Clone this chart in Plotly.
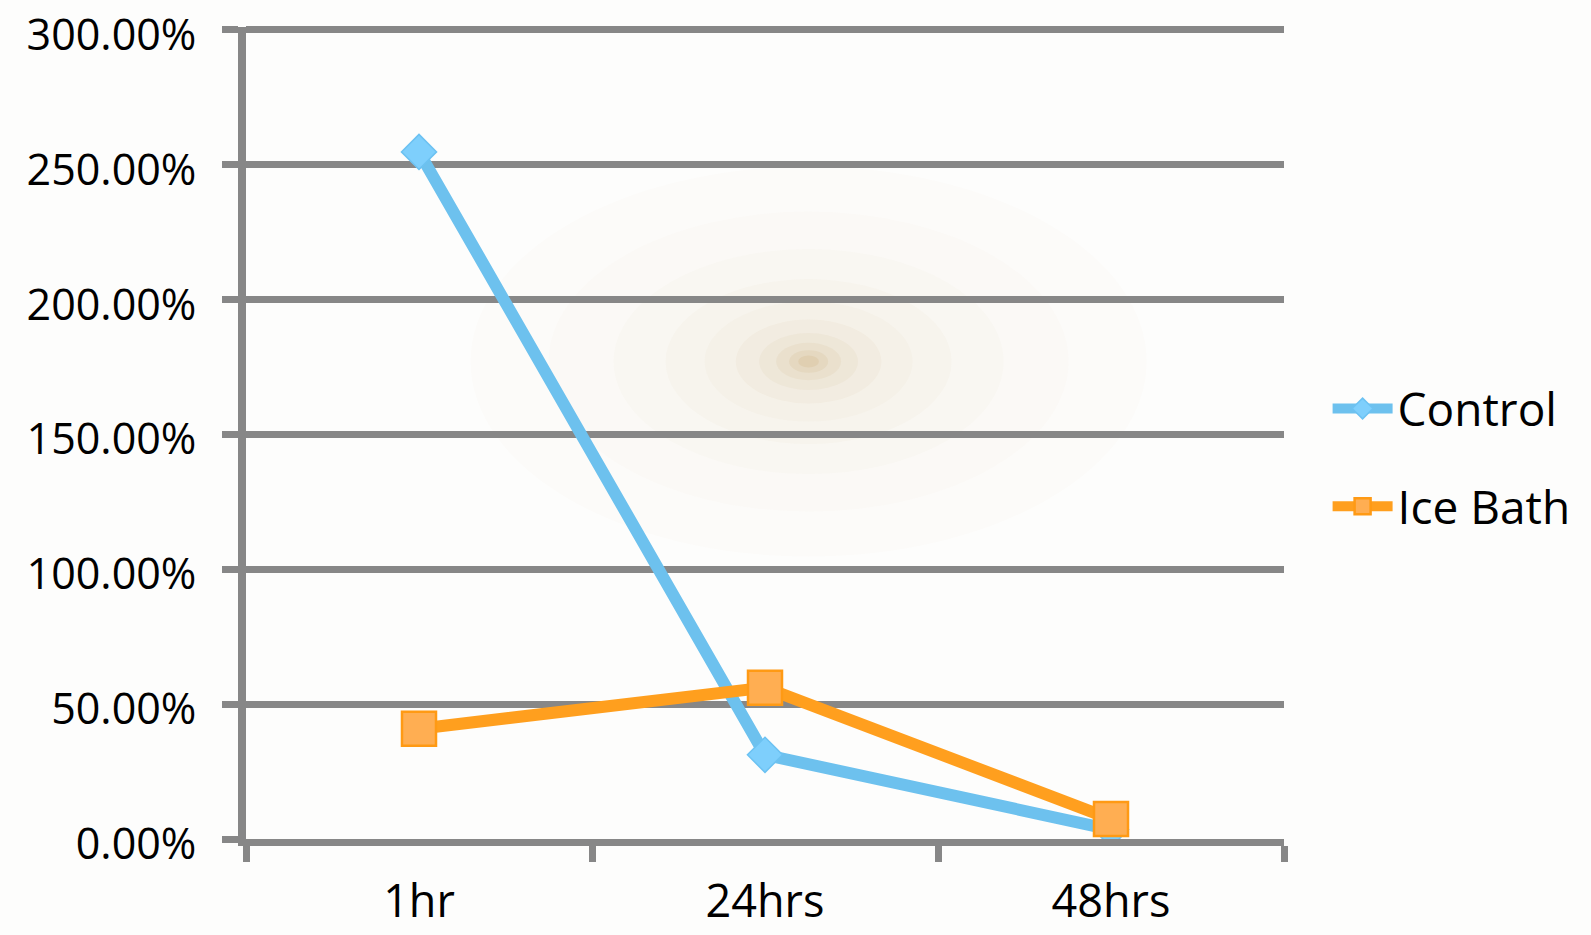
import plotly.graph_objects as go

categories = ["1hr", "24hrs", "48hrs"]
control = [254.7, 31.2, 3.5]
ice_bath = [40.9, 56.1, 7.4]
y_ticks = [0, 50, 100, 150, 200, 250, 300]
y_tick_text = [f"{v:.2f}%" for v in y_ticks]

GRID = "#878787"
FONT = "Open Sans"

fig = go.Figure()

fig.add_trace(go.Scatter(
    x=categories, y=control, name="Control", mode="lines+markers",
    line=dict(color="#6DC1EE", width=12),
    marker=dict(symbol="diamond", size=27, color="#7ECFFC",
                line=dict(color="#6CC2F2", width=1.5)),
    legendgroup="a",
))
fig.add_trace(go.Scatter(
    x=categories, y=ice_bath, name="Ice Bath", mode="lines+markers",
    line=dict(color="#FF9F1E", width=12),
    marker=dict(symbol="square", size=34, color="#FFAE52",
                line=dict(color="#FF9A14", width=2.5)),
    legendgroup="b",
))

# soft radial glow in the background
shapes = []
glow = [(260, 0.016), (200, 0.02), (150, 0.024), (110, 0.028), (80, 0.033),
        (56, 0.042), (38, 0.055), (25, 0.075), (15, 0.1), (8, 0.13)]
for r, a in glow:
    shapes.append(dict(type="circle", layer="below", xref="paper", yref="paper",
                       xsizemode="pixel", ysizemode="pixel",
                       xanchor=0.542, yanchor=0.588,
                       x0=-r * 1.3, x1=r * 1.3, y0=-r * 0.75, y1=r * 0.75,
                       fillcolor=f"rgba(190,150,80,{a})", line=dict(width=0)))

fig.update_layout(
    template="none",
    width=1591, height=935,
    margin=dict(l=246, r=307, t=27, b=96, autoexpand=False),
    paper_bgcolor="#FDFDFC", plot_bgcolor="rgba(0,0,0,0)",
    font=dict(family=FONT, size=44, color="#000000"),
    shapes=shapes,
    showlegend=True,
    legend=dict(x=1.042, xanchor="left", y=0.575, yanchor="top",
                font=dict(size=46, family=FONT, color="#000000"),
                bgcolor="rgba(0,0,0,0)", traceorder="grouped",
                tracegroupgap=35, itemwidth=60),
    xaxis=dict(type="category", categoryarray=categories, range=[-0.5, 2.5],
               tickson="boundaries", ticks="outside", ticklen=16, tickwidth=7,
               tickcolor=GRID, showline=True, linecolor=GRID, linewidth=7,
               showgrid=False, zeroline=False, ticklabelstandoff=17,
               automargin=False, ticklabeloverflow="allow",
               tickfont=dict(size=45, family=FONT)),
    yaxis=dict(range=[0, 301], tickvals=y_ticks, ticktext=y_tick_text,
               ticks="outside", ticklen=16, tickwidth=7, tickcolor=GRID,
               showline=True, linecolor=GRID, linewidth=8,
               showgrid=True, gridcolor=GRID, gridwidth=7, zeroline=False,
               automargin=False, ticklabelstandoff=17, ticklabelshift=5,
               ticklabeloverflow="allow",
               tickfont=dict(size=43, family=FONT)),
)

fig.write_html("out.html")
